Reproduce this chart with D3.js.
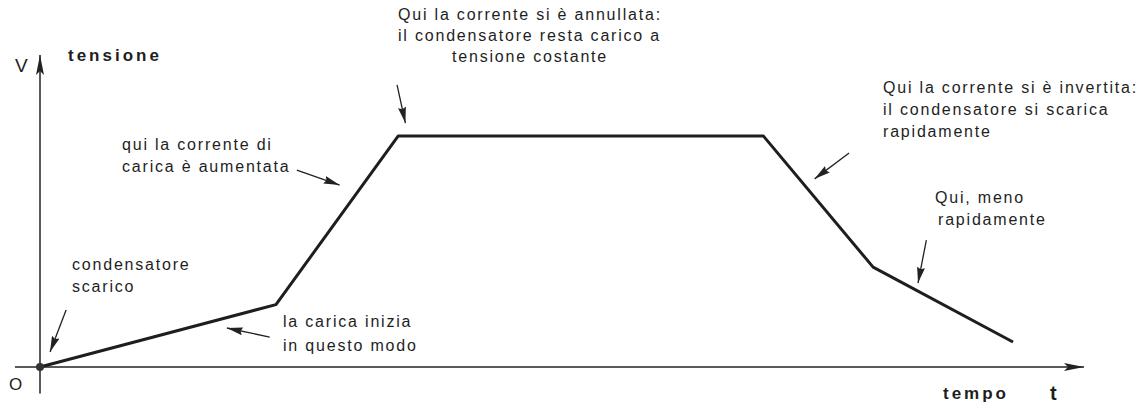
<!DOCTYPE html>
<html>
<head>
<meta charset="utf-8">
<script src="https://cdn.jsdelivr.net/npm/d3@7"></script>
<style>
  body { margin: 0; background: #fff; }
  svg text { font-family: "Liberation Sans", Arial, sans-serif; fill: #1e1e1e; }
  .note { font-size: 16px; letter-spacing: 1.8px; }
  .axisName { font-size: 17px; font-weight: bold; letter-spacing: 3px; }
</style>
</head>
<body>
<div id="chart"></div>
<script>
// Tensione ai capi del condensatore nel tempo (unita' arbitrarie)
var timeValues = [0, 22.6, 34.3, 69.3, 79.8, 93.2];
var voltageValues = [0, 2.0, 7.4, 7.4, 3.2, 0.8];

// frecce di commento: [t, v] di partenza e di punta
var arrowStarts = [[2.5, 1.83], [22.0, 0.96], [24.6, 6.31], [34.2, 9.04], [77.5, 6.86], [84.9, 4.07]];
var arrowTips = [[0.96, 0.48], [17.9, 1.25], [28.7, 5.83], [35.0, 7.82], [74.2, 6.03], [84.1, 2.69]];

// testi dei commenti
var noteLines = [
  ['condensatore', 'scarico'],
  ['la carica inizia', 'in questo modo'],
  ['qui la corrente di', 'carica è aumentata'],
  ['Qui la corrente si è annullata:', 'il condensatore resta carico a', 'tensione costante'],
  ['Qui la corrente si è invertita:', 'il condensatore si scarica', 'rapidamente'],
  ['Qui, meno', 'rapidamente']
];

var svgWidth = 1140;
var svgHeight = 405;

var svg = d3.select('#chart')
  .append('svg')
  .attr('width', svgWidth)
  .attr('height', svgHeight);

var x = d3.scaleLinear().domain([0, 100]).range([40, 1084]);
var y = d3.scaleLinear().domain([0, 10]).range([367, 55]);

var defs = svg.append('defs');
defs.append('marker')
  .attr('id', 'head')
  .attr('viewBox', '0 -4 16 8')
  .attr('markerUnits', 'userSpaceOnUse')
  .attr('markerWidth', 16)
  .attr('markerHeight', 8)
  .attr('refX', 16)
  .attr('refY', 0)
  .attr('orient', 'auto')
  .append('path')
  .attr('d', 'M0,-4L16,0L0,4L2,0Z')
  .attr('fill', '#222');

defs.append('marker')
  .attr('id', 'axisHead')
  .attr('viewBox', '0 -4 20 8')
  .attr('markerUnits', 'userSpaceOnUse')
  .attr('markerWidth', 20)
  .attr('markerHeight', 8)
  .attr('refX', 20)
  .attr('refY', 0)
  .attr('orient', 'auto')
  .append('path')
  .attr('d', 'M0,-4L20,0L0,4L4,0Z')
  .attr('fill', '#222');

// assi
svg.append('line')
  .attr('x1', x(-2.4)).attr('x2', x(100))
  .attr('y1', y(0)).attr('y2', y(0))
  .attr('stroke', '#222').attr('stroke-width', 1.5)
  .attr('marker-end', 'url(#axisHead)');

svg.append('line')
  .attr('x1', x(0)).attr('x2', x(0))
  .attr('y1', y(-0.85)).attr('y2', y(10))
  .attr('stroke', '#222').attr('stroke-width', 1.5)
  .attr('marker-end', 'url(#axisHead)');

// curva della tensione
var points = timeValues.map(function(t, i) { return [t, voltageValues[i]]; });
var line = d3.line()
  .x(function(d) { return x(d[0]); })
  .y(function(d) { return y(d[1]); });

svg.append('path')
  .datum(points)
  .attr('d', line)
  .attr('fill', 'none')
  .attr('stroke', '#1e1e1e')
  .attr('stroke-width', 3)
  .attr('stroke-linejoin', 'round');

svg.append('circle')
  .attr('cx', x(0))
  .attr('cy', y(0))
  .attr('r', 4)
  .attr('fill', '#333');

// frecce
svg.selectAll('.arrow')
  .data(arrowStarts)
  .enter()
  .append('line')
  .attr('class', 'arrow')
  .attr('x1', function(d) { return x(d[0]); })
  .attr('y1', function(d) { return y(d[1]); })
  .attr('x2', function(d, i) { return x(arrowTips[i][0]); })
  .attr('y2', function(d, i) { return y(arrowTips[i][1]); })
  .attr('stroke', '#222')
  .attr('stroke-width', 1.3)
  .attr('marker-end', 'url(#head)');

// posizione dei blocchi di testo (px): x, linea di base, interlinea, rientri
var notePos = [
  { x: 72, y: 270, dy: 22, indent: [0, 0] },
  { x: 283, y: 327, dy: 24, indent: [0, 0] },
  { x: 122, y: 150, dy: 22, indent: [0, 0] },
  { x: 398, y: 20, dy: 21, indent: [0, 0, 54] },
  { x: 883, y: 93, dy: 22, indent: [0, 0, 0] },
  { x: 935, y: 203, dy: 22, indent: [0, 3] }
];

noteLines.forEach(function(lines, i) {
  var p = notePos[i];
  var t = svg.append('text').attr('class', 'note');
  lines.forEach(function(s, j) {
    t.append('tspan')
      .attr('x', p.x + p.indent[j])
      .attr('y', p.y + j * p.dy)
      .text(s);
  });
});

// etichette degli assi
svg.append('text').attr('x', 15).attr('y', 72)
  .style('font-size', '19px').text('V');
svg.append('text').attr('class', 'axisName').attr('x', 68).attr('y', 61).text('tensione');
svg.append('text').attr('x', 9).attr('y', 390)
  .style('font-size', '17px').text('O');
svg.append('text').attr('class', 'axisName').attr('x', 943).attr('y', 399).text('tempo');
svg.append('text').attr('x', 1050).attr('y', 400)
  .style('font-size', '20px').style('font-weight', 'bold').text('t');
</script>
</body>
</html>
